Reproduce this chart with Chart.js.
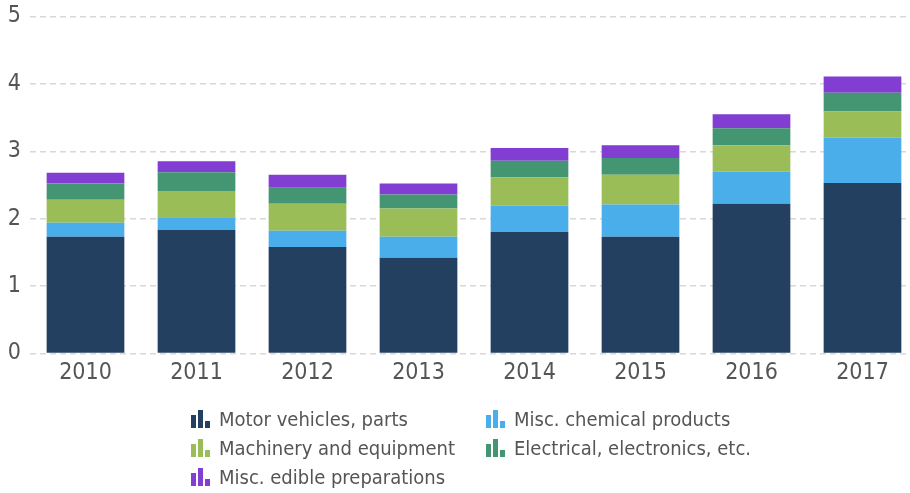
<!DOCTYPE html>
<html>
<head>
<meta charset="utf-8">
<script src="https://cdn.jsdelivr.net/npm/chart.js@4"></script>
<style>
  html, body { margin: 0; padding: 0; background: #fff; overflow: hidden; width: 910px; height: 493px; }
  #wrap { position: absolute; left: 0; top: 0; width: 920px; height: 393px; }
  #legend { position: absolute; left: 0; top: 0; width: 910px; height: 493px; pointer-events: none;
            font-family: "DejaVu Sans Condensed", "DejaVu Sans", sans-serif; font-stretch: condensed; font-size: 20px; color: #555; }
  .item { position: absolute; white-space: nowrap; line-height: 22px; height: 22px; }
  .icon { position: absolute; left: 0; bottom: 2px; width: 21px; height: 19px; }
  .icon span { position: absolute; bottom: 0; width: 5px; }
  .txt { position: absolute; left: 29px; top: 0; }
</style>
</head>
<body>
<div id="wrap"><canvas id="c" width="920" height="393"></canvas></div>
<div id="legend"></div>
<script>
const categories = ["2010", "2011", "2012", "2013", "2014", "2015", "2016", "2017"];
const seriesNames = ["Motor vehicles, parts", "Misc. chemical products", "Machinery and equipment", "Electrical, electronics, etc.", "Misc. edible preparations"];
const motorVehicles = [1.73, 1.83, 1.58, 1.42, 1.80, 1.73, 2.22, 2.53];
const chemicalProducts = [0.21, 0.19, 0.24, 0.31, 0.39, 0.48, 0.48, 0.67];
const machinery = [0.34, 0.39, 0.40, 0.42, 0.42, 0.44, 0.39, 0.39];
const electrical = [0.24, 0.28, 0.24, 0.21, 0.25, 0.25, 0.25, 0.28];
const edible = [0.16, 0.16, 0.19, 0.16, 0.19, 0.19, 0.21, 0.24];
const yTicks = [0, 1, 2, 3, 4, 5];
const colors = ["#234061", "#4aaeea", "#9abd57", "#449672", "#823dd3"];

const seriesValues = [motorVehicles, chemicalProducts, machinery, electrical, edible];
const tickFont = { family: "DejaVu Sans Condensed", size: 23 };

const chart = new Chart(document.getElementById("c"), {
  type: "bar",
  data: {
    labels: categories,
    datasets: seriesValues.map((vals, i) => ({
      label: seriesNames[i],
      data: vals,
      backgroundColor: colors[i],
      borderWidth: 0,
      categoryPercentage: 0.7,
      barPercentage: 1.0
    }))
  },
  options: {
    responsive: false,
    animation: false,
    devicePixelRatio: 1,
    layout: { padding: { top: 0, right: 2, bottom: 0, left: 0 } },
    plugins: { legend: { display: false }, tooltip: { enabled: false } },
    scales: {
      x: {
        stacked: true,
        grid: { display: false, drawTicks: false },
        border: { display: false },
        ticks: { color: "#555", padding: 6, font: tickFont }
      },
      y: {
        stacked: true,
        min: 0, max: 5,
        afterBuildTicks: (s) => { s.ticks = yTicks.map(v => ({ value: v })); },
        afterFit: (s) => { s.width = 30; s.paddingTop = 16.5; },
        grid: { color: "#d8d8d8", lineWidth: 1.5, drawTicks: false },
        border: { display: false, dash: [6, 4] },
        ticks: { color: "#555", padding: 9, font: tickFont }
      }
    }
  }
});

// HTML legend
const legend = document.getElementById("legend");
const positions = [[190, 408], [485, 408], [190, 437], [485, 437], [190, 466]];
seriesNames.forEach((name, i) => {
  const it = document.createElement("div");
  it.className = "item";
  it.style.left = positions[i][0] + "px";
  it.style.top = positions[i][1] + "px";
  const ic = document.createElement("div");
  ic.className = "icon";
  [[1, 13], [8, 18], [15, 7]].forEach(([x, h]) => {
    const b = document.createElement("span");
    b.style.left = x + "px";
    b.style.height = h + "px";
    b.style.background = colors[i];
    ic.appendChild(b);
  });
  it.appendChild(ic);
  const t = document.createElement("span");
  t.className = "txt";
  t.textContent = name;
  it.appendChild(t);
  legend.appendChild(it);
});
</script>
</body>
</html>
